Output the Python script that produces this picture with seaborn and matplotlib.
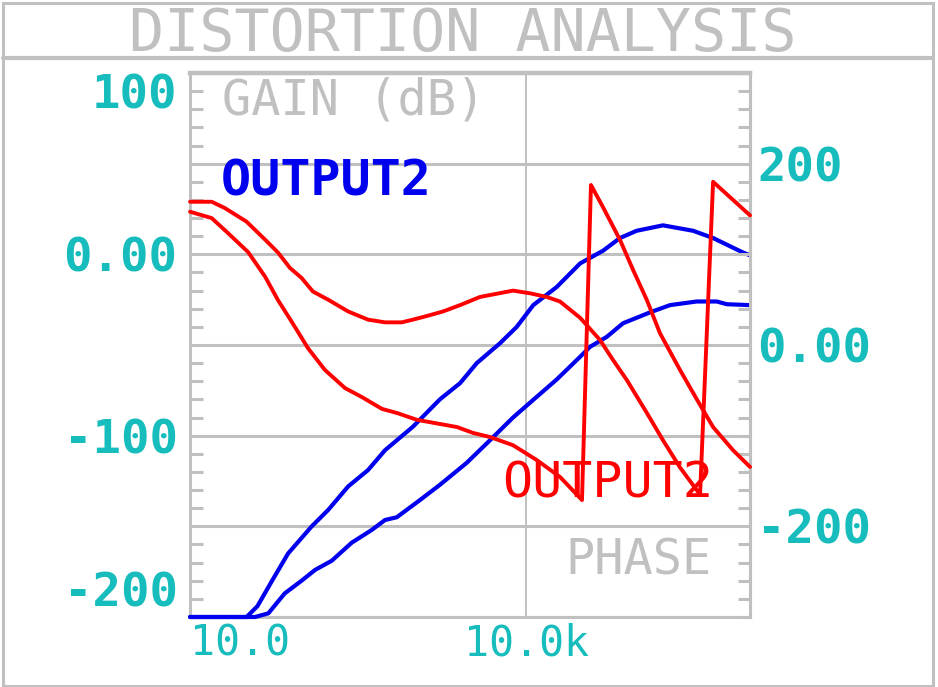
import matplotlib
matplotlib.use("Agg")
import matplotlib.pyplot as plt
from matplotlib.patches import Rectangle
from matplotlib.lines import Line2D
from matplotlib.ticker import MultipleLocator, NullLocator
import seaborn as sns

# ── Data ──────────────────────────────────────────────────────────────────────
FREQ_GAIN1 = [10, 32, 40, 54, 75, 122, 171, 258, 388, 551,
              980, 1700, 2580, 3630, 5860, 8260, 11600, 18800, 30400, 34800,
              48700, 69000, 97200, 167000, 310000, 468000, 866000, 1e6]
GAIN1 = [-200, -200, -194, -180, -165, -150, -141, -128, -119, -108,
         -95, -80, -71, -60, -49, -40, -28, -18, -5, -3,
         2, 9, 13, 16, 13, 9, 1, -0.5]

FREQ_GAIN2 = [10, 38, 50, 70, 99, 131, 184, 278, 419, 551,
              701, 1130, 1710, 2950, 4770, 7650, 12500, 18800, 30400, 37300,
              52600, 73500, 128000, 193000, 334000, 505000, 619000, 1e6]
GAIN2 = [-200, -200, -198, -187, -180, -174, -169, -159, -152, -146.5,
         -145, -135.5, -127, -115, -102.5, -90, -78.5, -69, -56.5, -51,
         -45.5, -38, -32, -28, -26, -26, -27.5, -28]

FREQ_PHASE1 = [10, 15.6, 20.5, 32, 47, 61, 78, 99, 125, 171,
               258, 388, 551, 776, 979, 1300, 1815, 2575, 3880, 7650,
               10900, 15300, 20100, 30400, 45800, 59800, 79800, 120000, 167000, 237000,
               358000, 468000, 1e6]
PHASE1 = [158, 158, 151, 136, 116, 102, 85, 74, 59, 50,
          37, 28, 25, 25, 28, 32, 37, 44, 53, 60,
          57, 53, 48, 30, 5.5, -16.5, -39, -75, -105, -135,
          -165, 180, 143]

FREQ_PHASE2 = [10, 15.6, 21.8, 33, 47, 61, 81, 113, 160, 242,
               343, 518, 705, 1060, 2420, 3370, 4770, 7650, 12500, 20100,
               31600, 38000, 48700, 69000, 90200, 120000, 157000, 237000, 337000, 468000,
               705000, 1e6]
PHASE2 = [147, 140, 123.5, 102.5, 75, 49.5, 25.5, -3.5, -27.5, -47.5,
          -57.5, -70.5, -75, -82.5, -90.5, -97, -101.5, -110.5, -127, -145.5,
          -171, 176.5, 152, 116, 83, 49.5, 13, -27.5, -60.5, -90.5,
          -116, -134.5]

GAIN_TICKS = [-200, -150, -100, -50, 0, 50, 100]
GAIN_LABELS = ["-200", "", "-100", "", "0.00", "", "100"]
PHASE_TICKS = [-200, 0, 200]
PHASE_LABELS = ["-200", "0.00", "200"]
FREQ_TICKS = [10, 1e4]
FREQ_LABELS = ["10.0", "10.0k"]

# ── Style ─────────────────────────────────────────────────────────────────────
GRAY = "#c0c0c0"
CYAN = "#17bcbc"
BLUE = "#0000ee"
RED = "#ff0000"
sns.set_style("white")
plt.rcParams["font.family"] = ["DejaVu Sans Mono", "DejaVu Sans"]

fig = plt.figure(figsize=(9.38, 6.87), dpi=100)
ax = fig.add_axes([0.2026, 0.1019, 0.597, 0.7918])
ax2 = ax.twinx()

# gain curves (left axis)
sns.lineplot(x=FREQ_GAIN1, y=GAIN1, ax=ax, color=BLUE, lw=3, estimator=None, sort=False)
sns.lineplot(x=FREQ_GAIN2, y=GAIN2, ax=ax, color=BLUE, lw=3, estimator=None, sort=False)
# phase curves (right axis)
sns.lineplot(x=FREQ_PHASE1, y=PHASE1, ax=ax2, color=RED, lw=2.8, estimator=None, sort=False)
sns.lineplot(x=FREQ_PHASE2, y=PHASE2, ax=ax2, color=RED, lw=2.8, estimator=None, sort=False)
for a in (ax, ax2):
    for ln in a.lines:
        ln.set_clip_on(False)
        ln.set_zorder(3)

ax.set_xscale("log")
ax.set_xlim(10, 1e6)
ax.set_ylim(-200, 100)
ax2.set_ylim(-300, 300)

# x axis
ax.set_xticks(FREQ_TICKS)
ax.set_xticklabels(FREQ_LABELS)
ax.xaxis.set_minor_locator(NullLocator())
ax.tick_params(axis="x", length=0, pad=4, labelsize=30, labelcolor=CYAN)
ax.get_xticklabels()[0].set_ha("left")

# left axis
ax.set_yticks(GAIN_TICKS)
ax.set_yticklabels(GAIN_LABELS)
ax.yaxis.set_minor_locator(MultipleLocator(10))
ax.tick_params(axis="y", which="major", length=0, pad=9, labelsize=34, labelcolor=CYAN)
ax.tick_params(axis="y", which="minor", direction="in", length=9, width=2.2, color=GRAY)
for lab in ax.get_yticklabels():
    lab.set_fontweight("bold")
    if lab.get_text() == "100":
        lab.set_va("top")
    elif lab.get_text() == "-200":
        lab.set_va("bottom")

# right axis
ax2.set_yticks(PHASE_TICKS)
ax2.set_yticklabels(PHASE_LABELS)
ax2.yaxis.set_minor_locator(MultipleLocator(20))
ax2.tick_params(axis="y", which="major", length=0, pad=5, labelsize=34, labelcolor=CYAN)
ax2.tick_params(axis="y", which="minor", direction="in", length=9, width=2.2, color=GRAY)
for lab in ax2.get_yticklabels():
    lab.set_fontweight("bold")

# grid + frame
ax.grid(True, axis="y", color=GRAY, lw=2.2)
ax.grid(True, axis="x", color=GRAY, lw=1.4)
ax.set_axisbelow(True)
for a in (ax, ax2):
    for side in a.spines:
        a.spines[side].set_color(GRAY)
        a.spines[side].set_linewidth(2.2)
        a.spines[side].set_zorder(1)
ax2.spines["bottom"].set_visible(False)
ax2.spines["left"].set_visible(False)
ax2.spines["top"].set_linewidth(3.2)
ax.set_xlabel("")
ax.set_ylabel("")
ax2.set_ylabel("")

# annotations
ax.text(0.057, 0.95, "GAIN (dB)", transform=ax.transAxes, color=GRAY,
        fontsize=35, va="center", ha="left")
ax.text(0.054, 0.80, "OUTPUT2", transform=ax.transAxes, color=BLUE,
        fontsize=36, fontweight="bold", va="center", ha="left")
ax2.text(0.557, 0.245, "OUTPUT2", transform=ax.transAxes, color=RED,
         fontsize=36, va="center", ha="left", zorder=5)
ax.text(0.932, 0.103, "PHASE", transform=ax.transAxes, color=GRAY,
        fontsize=35, va="center", ha="right")

# title box
fig.add_artist(Rectangle((0.003, 0.002), 0.992, 0.994, transform=fig.transFigure,
                         fill=False, ec=GRAY, lw=2.2))
fig.add_artist(Line2D([0.003, 0.995], [0.9156, 0.9156], transform=fig.transFigure,
                      color=GRAY, lw=3))
fig.text(0.493, 0.950, "DISTORTION ANALYSIS", color=GRAY, fontsize=42,
         ha="center", va="center")

plt.savefig("out.png", dpi=100)
plt.close()
